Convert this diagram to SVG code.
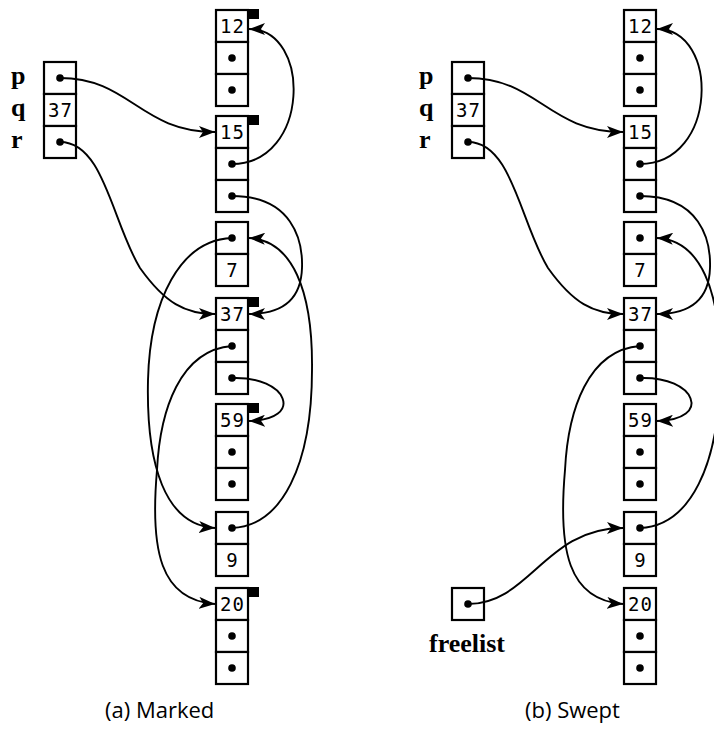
<svg xmlns="http://www.w3.org/2000/svg" width="714" height="732" viewBox="0 0 714 732">
<defs>
<marker id="ah" markerWidth="16" markerHeight="12" refX="16" refY="6" orient="auto" markerUnits="userSpaceOnUse">
<path d="M0,0 L16,6 L0,12 L4,6 Z" fill="#000"/>
</marker>
</defs>
<style>
.cell{fill:#fff;stroke:#000;stroke-width:2.2}
.dot{fill:#000}
.num{font-family:"DejaVu Sans Mono",monospace;font-size:19px;text-anchor:middle;letter-spacing:1px}
.lbl{font-family:"Liberation Serif",serif;font-weight:bold;font-size:26px}
.cap{font-family:"Open Sans",sans-serif;font-size:22px}
.edge{fill:none;stroke:#000;stroke-width:1.9;marker-end:url(#ah)}
.mark{fill:#000}
</style>
<rect width="714" height="732" fill="#fff"/>

<!-- (a) Marked -->
<g id="a-labels">
<text class="lbl" x="11" y="84">p</text>
<text class="lbl" x="11" y="116">q</text>
<text class="lbl" x="11" y="148">r</text>
</g>
<g id="a-roots" transform="translate(44,62)">
<rect class="cell" x="0" y="0" width="32" height="32"/>
<rect class="cell" x="0" y="32" width="32" height="32"/>
<rect class="cell" x="0" y="64" width="32" height="32"/>
<circle class="dot" cx="16" cy="16" r="3.8"/>
<text class="num" x="16.5" y="55">37</text>
<circle class="dot" cx="16" cy="80" r="3.8"/>
</g>
<g id="a-n12" transform="translate(216,10)">
<rect class="cell" x="0" y="0" width="32" height="32"/>
<rect class="cell" x="0" y="32" width="32" height="32"/>
<rect class="cell" x="0" y="64" width="32" height="32"/>
<text class="num" x="16.5" y="23">12</text>
<circle class="dot" cx="16" cy="48" r="3.8"/>
<circle class="dot" cx="16" cy="80" r="3.8"/>
<rect class="mark" x="32" y="-1" width="11" height="10"/>
</g>
<g id="a-n15" transform="translate(216,116)">
<rect class="cell" x="0" y="0" width="32" height="32"/>
<rect class="cell" x="0" y="32" width="32" height="32"/>
<rect class="cell" x="0" y="64" width="32" height="32"/>
<text class="num" x="16.5" y="23">15</text>
<circle class="dot" cx="16" cy="48" r="3.8"/>
<circle class="dot" cx="16" cy="80" r="3.8"/>
<rect class="mark" x="32" y="-1" width="11" height="10"/>
</g>
<g id="a-n7" transform="translate(216,222)">
<rect class="cell" x="0" y="0" width="32" height="32"/>
<rect class="cell" x="0" y="32" width="32" height="32"/>
<circle class="dot" cx="16" cy="16" r="3.8"/>
<text class="num" x="16.5" y="55">7</text>
</g>
<g id="a-n37" transform="translate(216,298)">
<rect class="cell" x="0" y="0" width="32" height="32"/>
<rect class="cell" x="0" y="32" width="32" height="32"/>
<rect class="cell" x="0" y="64" width="32" height="32"/>
<text class="num" x="16.5" y="23">37</text>
<circle class="dot" cx="16" cy="48" r="3.8"/>
<circle class="dot" cx="16" cy="80" r="3.8"/>
<rect class="mark" x="32" y="-1" width="11" height="10"/>
</g>
<g id="a-n59" transform="translate(216,404)">
<rect class="cell" x="0" y="0" width="32" height="32"/>
<rect class="cell" x="0" y="32" width="32" height="32"/>
<rect class="cell" x="0" y="64" width="32" height="32"/>
<text class="num" x="16.5" y="23">59</text>
<circle class="dot" cx="16" cy="48" r="3.8"/>
<circle class="dot" cx="16" cy="80" r="3.8"/>
<rect class="mark" x="32" y="-1" width="11" height="10"/>
</g>
<g id="a-n9" transform="translate(216,512)">
<rect class="cell" x="0" y="0" width="32" height="32"/>
<rect class="cell" x="0" y="32" width="32" height="32"/>
<circle class="dot" cx="16" cy="16" r="3.8"/>
<text class="num" x="16.5" y="55">9</text>
</g>
<g id="a-n20" transform="translate(216,588)">
<rect class="cell" x="0" y="0" width="32" height="32"/>
<rect class="cell" x="0" y="32" width="32" height="32"/>
<rect class="cell" x="0" y="64" width="32" height="32"/>
<text class="num" x="16.5" y="23">20</text>
<circle class="dot" cx="16" cy="48" r="3.8"/>
<circle class="dot" cx="16" cy="80" r="3.8"/>
<rect class="mark" x="32" y="-1" width="11" height="10"/>
</g>

<!-- (b) Swept -->
<g id="b-labels">
<text class="lbl" x="419" y="84">p</text>
<text class="lbl" x="419" y="116">q</text>
<text class="lbl" x="419" y="148">r</text>
<text class="lbl" x="429" y="652">freelist</text>
</g>
<g id="b-roots" transform="translate(452,62)">
<rect class="cell" x="0" y="0" width="32" height="32"/>
<rect class="cell" x="0" y="32" width="32" height="32"/>
<rect class="cell" x="0" y="64" width="32" height="32"/>
<circle class="dot" cx="16" cy="16" r="3.8"/>
<text class="num" x="16.5" y="55">37</text>
<circle class="dot" cx="16" cy="80" r="3.8"/>
</g>
<g id="b-freelist" transform="translate(452,588)">
<rect class="cell" x="0" y="0" width="32" height="32"/>
<circle class="dot" cx="16" cy="16" r="3.8"/>
</g>
<g id="b-n12" transform="translate(624,10)">
<rect class="cell" x="0" y="0" width="32" height="32"/>
<rect class="cell" x="0" y="32" width="32" height="32"/>
<rect class="cell" x="0" y="64" width="32" height="32"/>
<text class="num" x="16.5" y="23">12</text>
<circle class="dot" cx="16" cy="48" r="3.8"/>
<circle class="dot" cx="16" cy="80" r="3.8"/>
</g>
<g id="b-n15" transform="translate(624,116)">
<rect class="cell" x="0" y="0" width="32" height="32"/>
<rect class="cell" x="0" y="32" width="32" height="32"/>
<rect class="cell" x="0" y="64" width="32" height="32"/>
<text class="num" x="16.5" y="23">15</text>
<circle class="dot" cx="16" cy="48" r="3.8"/>
<circle class="dot" cx="16" cy="80" r="3.8"/>
</g>
<g id="b-n7" transform="translate(624,222)">
<rect class="cell" x="0" y="0" width="32" height="32"/>
<rect class="cell" x="0" y="32" width="32" height="32"/>
<circle class="dot" cx="16" cy="16" r="3.8"/>
<text class="num" x="16.5" y="55">7</text>
</g>
<g id="b-n37" transform="translate(624,298)">
<rect class="cell" x="0" y="0" width="32" height="32"/>
<rect class="cell" x="0" y="32" width="32" height="32"/>
<rect class="cell" x="0" y="64" width="32" height="32"/>
<text class="num" x="16.5" y="23">37</text>
<circle class="dot" cx="16" cy="48" r="3.8"/>
<circle class="dot" cx="16" cy="80" r="3.8"/>
</g>
<g id="b-n59" transform="translate(624,404)">
<rect class="cell" x="0" y="0" width="32" height="32"/>
<rect class="cell" x="0" y="32" width="32" height="32"/>
<rect class="cell" x="0" y="64" width="32" height="32"/>
<text class="num" x="16.5" y="23">59</text>
<circle class="dot" cx="16" cy="48" r="3.8"/>
<circle class="dot" cx="16" cy="80" r="3.8"/>
</g>
<g id="b-n9" transform="translate(624,512)">
<rect class="cell" x="0" y="0" width="32" height="32"/>
<rect class="cell" x="0" y="32" width="32" height="32"/>
<circle class="dot" cx="16" cy="16" r="3.8"/>
<text class="num" x="16.5" y="55">9</text>
</g>
<g id="b-n20" transform="translate(624,588)">
<rect class="cell" x="0" y="0" width="32" height="32"/>
<rect class="cell" x="0" y="32" width="32" height="32"/>
<rect class="cell" x="0" y="64" width="32" height="32"/>
<text class="num" x="16.5" y="23">20</text>
<circle class="dot" cx="16" cy="48" r="3.8"/>
<circle class="dot" cx="16" cy="80" r="3.8"/>
</g>

<g id="connectors">
<g id="a-edges">
<path class="edge" d="M60,78 C130,78 140,132 215,132"/>
<path class="edge" d="M60,142 C104,142 112,222 140,268 C165,303 185,314 215,314"/>
<path class="edge" d="M232,164 C310,164 312,29 249,29"/>
<path class="edge" d="M232,196 C292,196 303,240 302,268 C301,300 282,314 249,314"/>
<path class="edge" d="M232,238 C180,240 150,300 148,380 C146,465 165,525 215,528"/>
<path class="edge" d="M232,346 C180,350 160,410 157,470 C150,550 160,600 215,604"/>
<path class="edge" d="M232,528 C282,526 312,465 312,370 C313,290 292,240 249,238"/>
<path class="edge" d="M232,378 C288,376 305,420 249,421"/>
</g>
<g id="b-edges" transform="translate(408,0)">
<path class="edge" d="M60,78 C130,78 140,132 215,132"/>
<path class="edge" d="M60,142 C104,142 112,222 140,268 C165,303 185,314 215,314"/>
<path class="edge" d="M232,164 C310,164 312,29 249,29"/>
<path class="edge" d="M232,196 C292,196 303,240 302,268 C301,300 282,314 249,314"/>
<path class="edge" d="M232,346 C180,350 160,410 157,470 C150,550 160,600 215,604"/>
<path class="edge" d="M232,528 C282,526 312,465 312,370 C313,290 292,240 249,238"/>
<path class="edge" d="M232,378 C288,376 305,420 249,421"/>
<path class="edge" d="M60,604 C122,604 137,528 215,528"/>
</g>
</g>

<g id="captions">
<text class="cap" x="105" y="718">(a) Marked</text>
<text class="cap" x="525" y="718">(b) Swept</text>
</g>
</svg>
